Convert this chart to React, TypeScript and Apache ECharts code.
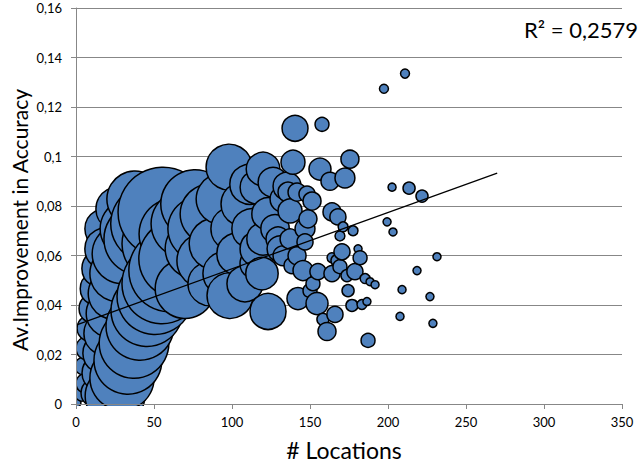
import React, { useEffect, useRef } from "react";
import * as echarts from "echarts";

// # Locations (x), average improvement in accuracy (y), bubble weight
const locations = [
  0.6, 3.8, 5.1, 6.4, 7.7, 9.0, 11.5, 12.2, 13.5, 15.4,
  16.0, 17.3, 18.6, 19.2, 19.2, 21.8, 24.4, 25.0, 26.9, 26.9,
  29.5, 29.5, 33.3, 34.6, 37.2, 37.8, 41.0, 41.0, 45.5, 47.4,
  50.6, 53.8, 55.1, 55.8, 60.3, 63.5, 65.4, 69.9, 69.9, 76.3,
  76.3, 79.5, 82.7, 85.9, 85.9, 89.1, 93.6, 95.5, 98.1, 98.7,
  100.6, 103.8, 107.1, 108.3, 111.5, 112.8, 114.7, 116.0, 116.7, 119.2,
  119.9, 119.9, 123.1, 123.1, 126.3, 127.6, 129.5, 130.8, 132.7, 132.7,
  135.3, 135.9, 137.2, 137.2, 138.5, 139.1, 140.4, 141.7, 141.7, 142.3,
  145.5, 146.8, 146.8, 148.1, 148.7, 150.0, 151.3, 151.9, 154.5, 155.1,
  156.4, 157.7, 158.3, 160.9, 162.8, 164.1, 164.1, 164.1, 166.0, 167.3,
  167.9, 169.2, 169.2, 170.5, 171.2, 172.4, 173.7, 174.4, 175.6, 176.9,
  177.6, 178.8, 180.8, 182.1, 183.3, 185.3, 186.5, 187.2, 188.5, 191.7,
  197.4, 199.4, 202.6, 203.2, 207.7, 209.0, 210.9, 213.5, 218.6, 221.8,
  226.9, 228.8, 231.4,
];
const improvement = [
  0.0004, 0.004, 0.0153, 0.0084, 0.0225, 0.0306, 0.0386, 0.0044, 0.0466, 0.0125,
  0.0547, 0.0205, 0.0708, 0.0627, 0.0285, 0.0366, 0.0446, 0.0032, 0.0527, 0.0788,
  0.0607, 0.0105, 0.0177, 0.0708, 0.0245, 0.0828, 0.0314, 0.0667, 0.0378, 0.0728,
  0.0434, 0.0647, 0.0486, 0.0775, 0.0539, 0.0687, 0.0587, 0.0466, 0.0728, 0.0808,
  0.0627, 0.0708, 0.0579, 0.0768, 0.0486, 0.0647, 0.0828, 0.0527, 0.0957, 0.0438,
  0.0708, 0.0607, 0.0808, 0.0486, 0.0888, 0.0708, 0.0567, 0.0876, 0.0627, 0.0527,
  0.0949, 0.0667, 0.0374, 0.0768, 0.0896, 0.0708, 0.0667, 0.0627, 0.0599, 0.0828,
  0.088, 0.0856, 0.078, 0.0667, 0.0559, 0.0977, 0.1114, 0.0599, 0.0856, 0.0426,
  0.0539, 0.0708, 0.0655, 0.0848, 0.0748, 0.0458, 0.082, 0.0486, 0.0406, 0.0535,
  0.0949, 0.113, 0.0342, 0.0293, 0.09, 0.0776, 0.0591, 0.0527, 0.0362, 0.0579,
  0.0756, 0.0679, 0.0555, 0.0615, 0.0716, 0.0913, 0.0519, 0.0458, 0.0989, 0.0398,
  0.07, 0.0535, 0.0627, 0.0591, 0.0402, 0.0507, 0.0414, 0.0257, 0.0494, 0.0482,
  0.1274, 0.0736, 0.0876, 0.0695, 0.0354, 0.0462, 0.1335, 0.0872, 0.0539, 0.084,
  0.0434, 0.0326, 0.0595,
];
const weights = [
  0.8, 2.4, 4, 4.9, 7.1, 8.3, 11, 9.7, 14, 16,
  18, 20, 20, 22, 24, 28, 33, 44, 39, 24,
  44, 51, 57, 44, 60, 39, 57, 64, 64, 76,
  71, 71, 79, 100, 84, 64, 76, 44, 57, 58,
  44, 51, 39, 44, 24, 33, 33, 24, 26, 26,
  24, 22, 24, 16, 20, 20, 11, 14, 16, 13,
  14, 13, 16, 13, 11, 10, 7.1, 8.3, 4.9, 8.3,
  9.7, 4.9, 7.1, 4.9, 3.2, 7.1, 8.3, 4, 4, 6,
  4.9, 4.9, 3.2, 3.2, 4, 2.4, 4, 2.4, 6, 3.2,
  6, 2.4, 1.8, 4, 4, 4, 1.2, 3.2, 3.2, 1.8,
  3.2, 1.2, 2.4, 3.2, 1.2, 4.9, 1.8, 1.8, 4, 1.8,
  1.2, 3.2, 0.8, 2.4, 1.2, 1.2, 0.8, 2.4, 0.8, 0.8,
  1, 0.8, 0.8, 0.8, 0.8, 0.8, 1, 1.8, 0.8, 1.8,
  0.8, 0.8, 0.8,
];
// linear trend line end points
const trendX = [0, 270];
const trendY = [0.0319, 0.0933];
const rSquaredLabel = "R² = 0,2579";
const xName = "# Locations";
const yName = "Av.Improvement in Accuracy";

const FONT = "Lato, 'Open Sans', sans-serif";
const GRID_COLOR = "#878787";

export default function App() {
  const ref = useRef<HTMLDivElement>(null);
  useEffect(() => {
    if (!ref.current) return;
    const chart = echarts.init(ref.current, null, { renderer: "svg" });
    const bubbles = locations.map((x, i) => [x, improvement[i], weights[i]]);
    const trend = trendX.map((x, i) => [x, trendY[i]]);
    const fmtY = (v: number) => (v === 0 ? "0" : String(+v.toFixed(2)).replace(".", ","));
    chart.setOption({
      animation: false,
      grid: { left: 76, right: 17, top: 8, bottom: 60, containLabel: false },
      xAxis: [
        {
          type: "value", min: 0, max: 350, interval: 50, z: 0,
          axisLine: { show: false }, axisTick: { show: false },
          axisLabel: { show: false }, splitLine: { show: false },
        },
        {
          type: "value", min: 0, max: 350, interval: 50, z: 10, position: "bottom",
          axisLine: { show: true, onZero: false, lineStyle: { color: GRID_COLOR, width: 1 } },
          axisTick: { show: true, length: 5, inside: false, lineStyle: { color: GRID_COLOR } },
          axisLabel: { show: true, margin: 11, fontSize: 13, color: "#000", fontFamily: FONT },
          splitLine: { show: false },
          name: xName, nameLocation: "middle", nameGap: 34,
          nameTextStyle: { fontSize: 23, color: "#000", fontFamily: FONT, padding: [0, 10, 0, 0] },
        },
      ],
      yAxis: [
        {
          type: "value", min: 0, max: 0.16, interval: 0.02, z: 0,
          axisLine: { show: false }, axisTick: { show: false },
          axisLabel: { show: false },
          splitLine: { show: true, lineStyle: { color: GRID_COLOR, width: 1 } },
        },
        {
          type: "value", min: 0, max: 0.16, interval: 0.02, z: 10, position: "left",
          axisLine: { show: true, onZero: false, lineStyle: { color: GRID_COLOR, width: 1 } },
          axisTick: { show: true, length: 5, inside: false, lineStyle: { color: GRID_COLOR } },
          axisLabel: { show: true, margin: 14, fontSize: 13, color: "#000", fontFamily: FONT, formatter: fmtY },
          splitLine: { show: false },
        },
      ],
      series: [
        {
          type: "scatter", xAxisIndex: 0, yAxisIndex: 0, z: 2,
          data: bubbles,
          symbolSize: (v: number[]) => Math.sqrt(v[2]) * 9,
          itemStyle: { color: "#4F81BD", borderColor: "#000", borderWidth: 1.5, opacity: 1 },
          emphasis: { disabled: true },
        },
        {
          type: "line", xAxisIndex: 0, yAxisIndex: 0, z: 3,
          data: trend, symbol: "none", showSymbol: false,
          lineStyle: { color: "#000", width: 1.3 },
        },
      ],
      graphic: [
        { type: "rect", z: 5, shape: { x: 0, y: 406, width: 639, height: 60 }, style: { fill: "#fff" }, silent: true },
        { type: "rect", z: 5, shape: { x: 0, y: 0, width: 76, height: 466 }, style: { fill: "#fff" }, silent: true },
        {
          type: "text", z: 20, x: 638, y: 29,
          style: { text: rSquaredLabel, fontSize: 22, fill: "#000", fontFamily: FONT, align: "right", verticalAlign: "middle" },
        },
        {
          type: "text", z: 20, x: 19, y: 220, rotation: Math.PI / 2,
          style: { text: yName, fontSize: 21, fill: "#000", fontFamily: FONT, align: "center", verticalAlign: "middle" },
        },
      ],
    });
    return () => chart.dispose();
  }, []);
  return (
    <div
      ref={ref}
      style={{ position: "fixed", left: 0, top: 0, width: 639, height: 466, background: "#fff" }}
    />
  );
}
